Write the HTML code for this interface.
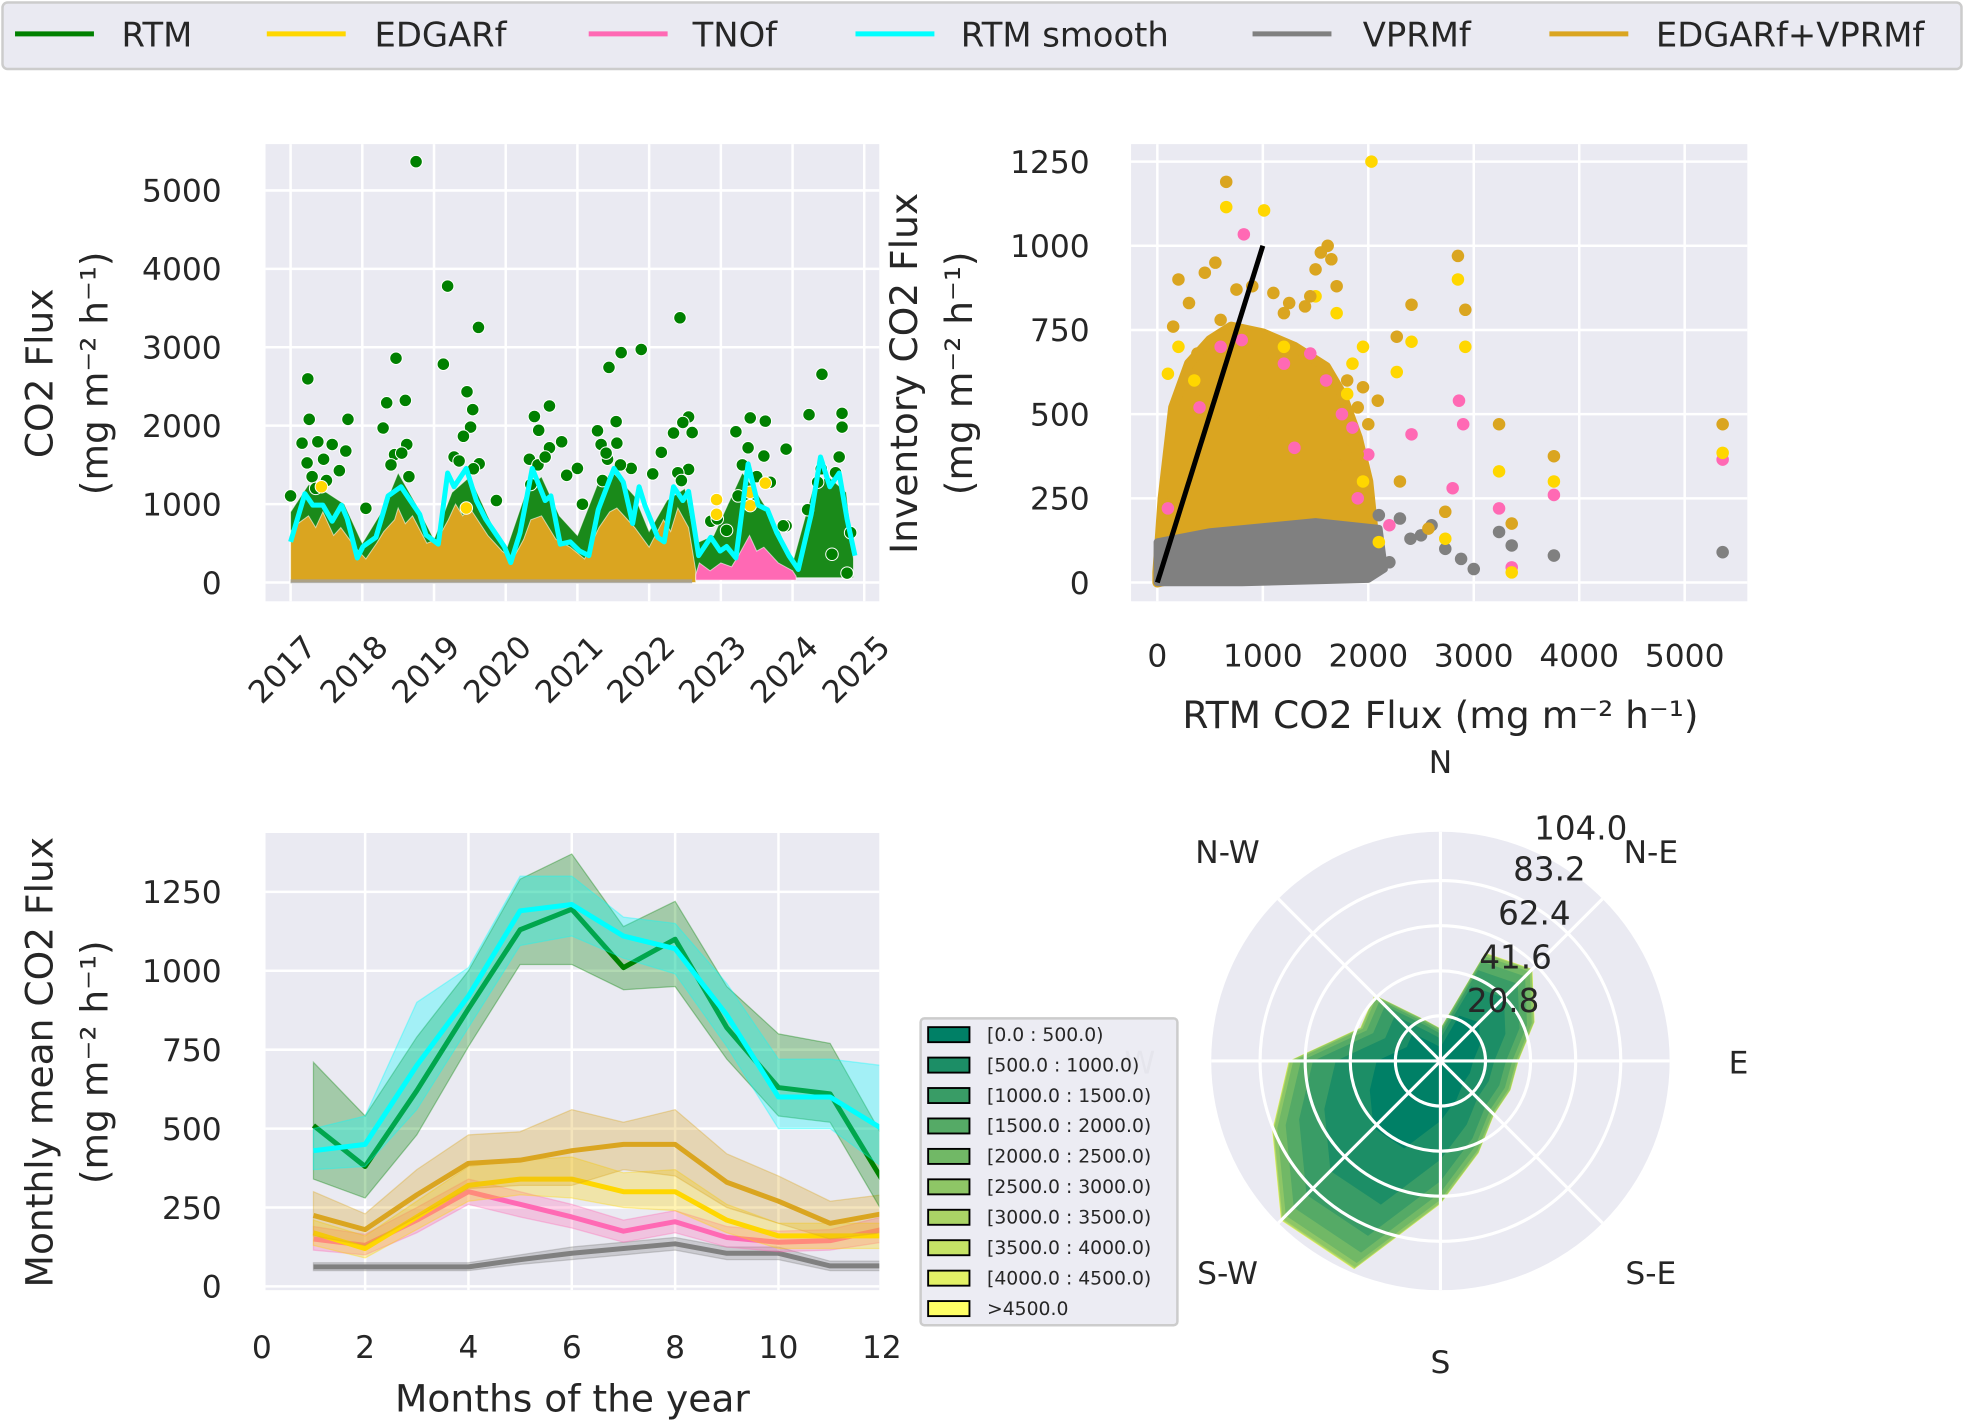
<!DOCTYPE html>
<html><head><meta charset="utf-8"><style>
html,body{margin:0;padding:0;background:#fff;}
svg{display:block;font-family:"DejaVu Sans","Liberation Sans",sans-serif;}
</style></head><body>
<svg id="fig" width="1964" height="1423" viewBox="0 0 1568 1136" xmlns="http://www.w3.org/2000/svg"></svg>
<script>
// ---------- DATA ----------
const legendLabels = ["RTM","EDGARf","TNOf","RTM smooth","VPRMf","EDGARf+VPRMf"];
const legendColors = ["#008000","#FFD700","#FF69B4","#00FFFF","#808080","#DAA520"];

// Panel 1: time series
const yearTicks = [2017,2018,2019,2020,2021,2022,2023,2024,2025];
const fluxTicks = [0,1000,2000,3000,4000,5000];
const smoothYears = [2017.0,2017.2,2017.31,2017.45,2017.58,2017.71,2017.79,2017.93,2018.01,2018.19,2018.36,2018.54,2018.67,2018.8,2018.89,2019.06,2019.19,2019.28,2019.45,2019.59,2019.72,2019.85,2019.98,2020.07,2020.2,2020.37,2020.55,2020.63,2020.76,2020.9,2021.03,2021.16,2021.29,2021.51,2021.64,2021.77,2021.86,2021.94,2022.12,2022.21,2022.34,2022.47,2022.55,2022.69,2022.86,2022.99,2023.08,2023.21,2023.38,2023.52,2023.65,2023.78,2023.95,2024.08,2024.26,2024.39,2024.52,2024.65,2024.76,2024.87];
const smoothVals = [518,1133,986,986,781,986,810,313,459,576,1104,1221,1045,870,606,489,1396,1221,1455,1045,810,635,459,254,635,1455,1045,1104,489,518,401,342,928,1455,1279,752,1221,986,576,518,1221,1045,1162,342,576,401,459,313,1513,986,928,635,342,166,870,1601,1221,1396,810,342];
const rtmMassYears = [2017.0,2017.25,2017.5,2017.75,2018.0,2018.3,2018.5,2018.75,2019.0,2019.25,2019.5,2019.75,2020.0,2020.3,2020.5,2020.75,2021.0,2021.3,2021.5,2021.8,2022.0,2022.25,2022.5,2022.65,2022.9,2023.3,2023.5,2023.8,2024.0,2024.3,2024.5,2024.75,2024.85];
const rtmMassTop = [900,1250,1150,1000,500,950,1400,1000,550,1150,1350,850,400,1200,1350,850,600,1300,1400,1100,650,1050,1200,500,600,1400,1150,700,250,1250,1350,1150,300];
const goldMassYears = [2017.0,2017.1,2017.25,2017.35,2017.45,2017.6,2017.7,2017.9,2018.05,2018.2,2018.3,2018.45,2018.5,2018.6,2018.7,2018.9,2019.05,2019.2,2019.3,2019.4,2019.5,2019.75,2019.95,2020.1,2020.25,2020.35,2020.5,2020.7,2020.9,2021.1,2021.3,2021.45,2021.55,2021.8,2022.0,2022.2,2022.3,2022.4,2022.55,2022.65];
const goldMassTop = [650,750,850,700,900,600,700,450,300,500,650,800,950,750,850,500,550,800,1000,850,950,600,400,300,550,800,850,550,450,300,700,900,950,700,450,800,650,950,700,150];
const pinkMassYears = [2022.65,2022.7,2022.85,2023.0,2023.15,2023.25,2023.4,2023.5,2023.6,2023.8,2024.0,2024.05];
const pinkMassTop = [100,250,150,250,200,350,600,400,450,250,150,80];
const rtmPtYears = [2017.24,2017.26,2017.16,2017.38,2017.58,2017.23,2017.46,2017.8,2017.77,2017.68,2017.0,2018.05,2018.29,2018.47,2018.34,2018.6,2018.45,2018.62,2018.75,2019.13,2019.19,2019.62,2019.46,2019.54,2019.51,2019.41,2019.63,2019.28,2019.87,2020.61,2020.4,2020.46,2020.78,2020.61,2020.33,2021.0,2020.85,2021.07,2021.44,2021.61,2021.89,2021.28,2021.54,2021.33,2021.55,2021.42,2021.75,2022.05,2022.17,2022.43,2022.55,2022.34,2022.47,2022.6,2022.55,2023.21,2023.41,2023.62,2023.24,2023.6,2023.38,2023.91,2023.91,2024.23,2024.41,2024.69,2024.69,2024.65,2024.55,2024.76,2024.35,2024.21,2024.81,2022.86,2023.08,2022.95,2023.87,2023.69,2017.3,2017.5,2018.4,2018.55,2019.35,2019.55,2020.45,2020.55,2021.4,2021.6,2022.4,2023.3,2023.5,2024.4,2024.6,2017.35,2018.65,2020.35,2021.35,2022.45];
const rtmPtVals = [2597,2081,1777,1795,1760,1525,1572,2081,1677,1426,1104,946,1970,2860,2292,2322,1631,1760,5367,2784,3780,3253,2433,2205,1982,1865,1514,1601,1045,2251,2117,1941,1795,1718,1572,1455,1367,998,2743,2931,2972,1935,2052,1760,1777,1572,1455,1385,1660,3376,2111,1906,2041,1912,1443,1923,2099,2058,1104,1613,1718,1701,723,2140,2655,2157,1982,1601,360,120,1279,928,635,781,665,811,723,1279,1350,1300,1500,1650,1550,1450,1500,1600,1650,1500,1400,1500,1350,1450,1400,1200,1350,1250,1300,1300];
const edgarPtYears = [2023.62,2022.94,2022.94,2023.41,2023.41,2017.43,2019.45];
const edgarPtVals = [1267,1057,870,1150,980,1221,950];

// Panel 2: scatter RTM vs inventory
const rtmXTicks = [0,1000,2000,3000,4000,5000];
const invYTicks = [0,250,500,750,1000,1250];
const goldHullX = [0,50,150,300,500,700,1000,1300,1600,1750,1900,2000,2050,1800,800,0];
const goldHullY = [30,250,520,650,720,760,740,700,640,560,430,300,150,100,60,0];
const grayHullX = [0,0,500,1500,2100,2150,2000,800];
const grayHullY = [0,120,150,180,160,40,10,0];
const goldPtX = [653,1615,2850,2920,3240,3360,3760,5360,2410,2270,2090,2730,2570,380,150,1200,1800,1900,1500,1400,900,300,1000,1700,1850,2300,200,550,750,1100,1250,1650,1700,600,450,1900,2000,1550,1950,1450];
const goldPtY = [1190,1000,970,810,470,175,375,470,825,730,540,210,160,680,760,800,600,380,930,820,880,830,480,350,420,300,900,950,870,860,830,960,880,780,920,520,470,980,580,850];
const yellowPtX = [653,1012,2030,2850,2920,3240,2410,2270,2730,100,200,1800,1950,2100,3760,5360,3360,1500,1700,1200,350,1850,1950];
const yellowPtY = [1115,1105,1250,900,700,330,715,625,130,620,700,560,300,120,300,385,30,850,800,700,600,650,700];
const pinkPtX = [820,2860,3240,3360,3760,5360,2410,2900,1600,1300,600,2200,2800,1900,100,1200,1450,1750,1850,400,800,2000];
const pinkPtY = [1034,540,220,45,260,365,440,470,600,400,700,170,280,250,220,650,680,500,460,520,720,380];
const grayPtX = [3240,3360,3760,5360,2730,2880,2500,2600,2200,2300,3000,1900,2400,2100];
const grayPtY = [150,110,80,90,100,70,140,170,60,190,40,30,130,200];

// Panel 3: monthly means
const months = [1,2,3,4,5,6,7,8,9,10,11,12];
const monthTicks = [0,2,4,6,8,10,12];
const monthlyYTicks = [0,250,500,750,1000,1250];
const rtmMean = [510,380,620,880,1130,1195,1010,1100,820,630,610,340];
const rtmHi = [710,540,790,1000,1290,1370,1140,1220,950,800,770,480];
const rtmLo = [340,280,480,760,1020,1020,940,950,720,540,520,240];
const smoothMean = [430,450,700,920,1190,1210,1110,1070,860,600,600,500];
const smoothHi = [500,540,900,1010,1300,1300,1170,1150,960,720,720,700];
const smoothLo = [370,380,560,820,1080,1110,1040,990,760,500,500,380];
const goldMean = [225,180,290,390,400,430,450,450,330,270,200,230];
const goldHi = [300,230,370,480,490,560,520,560,420,350,270,290];
const goldLo = [160,130,220,310,320,320,370,350,250,200,150,170];
const edgarMean = [170,120,220,320,340,340,300,300,210,160,160,160];
const edgarHi = [210,160,270,380,400,410,360,370,260,200,200,200];
const edgarLo = [130,90,180,270,290,280,250,240,170,120,120,120];
const tnoMean = [150,130,210,300,260,220,175,205,155,140,145,180];
const tnoHi = [190,165,250,340,300,260,210,240,190,175,180,220];
const tnoLo = [115,100,170,260,220,185,140,170,125,110,115,140];
const vprmMean = [62,62,62,62,85,105,120,135,105,105,65,65];
const vprmHi = [75,75,75,75,100,125,140,155,125,125,80,80];
const vprmLo = [50,50,50,50,70,85,100,115,85,85,50,50];

// Panel 4: wind rose
const dirLabels = ["N","N-E","E","S-E","S","S-W","W","N-W"];
const ringLabels = ["20.8","41.6","62.4","83.2","104.0"];
const ringVals = [20.8,41.6,62.4,83.2,104.0];
const dirTotals = [15,54,60,47,36,35,35,46,66,104,104,84,70,40,43,21];
const binShares = [0.42,0.27,0.15,0.08,0.05,0.02,0.005,0.003,0.001,0.001];
const binLabels = ["[0.0 : 500.0)","[500.0 : 1000.0)","[1000.0 : 1500.0)","[1500.0 : 2000.0)","[2000.0 : 2500.0)","[2500.0 : 3000.0)","[3000.0 : 3500.0)","[3500.0 : 4000.0)","[4000.0 : 4500.0)",">4500.0"];

// ---------- DRAW ----------
const NS="http://www.w3.org/2000/svg";
const svg=document.getElementById('fig');
function mk(tag,attrs,parent){const e=document.createElementNS(NS,tag);for(const k in attrs)e.setAttribute(k,attrs[k]);(parent||svg).appendChild(e);return e;}
function txt(s,x,y,size,anchor,parent,extra){const e=mk('text',Object.assign({x:x,y:y,'font-size':size,'text-anchor':anchor||'middle',fill:'#262626'},extra||{}),parent);e.textContent=s;return e;}
const BG="#eaeaf2";
const TICK=25, LAB=30;

// Top legend
const lg=mk('g',{});


const lgb=mk('rect',{x:2,y:2,width:1564,height:53,rx:4,fill:'#eaeaf2',stroke:'#cccccc','stroke-width':2},lg);


const lgX=[12,213,470,683,1000,1237];
const lgT=[97,299,553,767,1088,1322];
legendLabels.forEach((l,i)=>{
  const g=mk('g',{},lg);
  
  
  mk('line',{x1:lgX[i],x2:lgX[i]+63,y1:27,y2:27,stroke:legendColors[i],'stroke-width':4},g);
  txt(l,lgT[i],37,27,'start',g);
});

// ----- Panel 1 -----
const p1={x0:212,x1:702,y0:115,y1:480};
const X1=y=>232+(y-2017)*57.25, Y1=v=>465-v*0.0626;
const g1=mk('g',{});


mk('rect',{x:p1.x0,y:p1.y0,width:p1.x1-p1.x0,height:p1.y1-p1.y0,fill:BG},g1);
yearTicks.forEach(t=>{mk('line',{x1:X1(t),x2:X1(t),y1:p1.y0,y2:p1.y1,stroke:'#fff','stroke-width':2},g1);
  const tl=txt(String(t),X1(t)+22,518,TICK,'end',g1,{transform:`rotate(-45 ${X1(t)+22} 518)`});
  
  });
fluxTicks.forEach(t=>{mk('line',{x1:p1.x0,x2:p1.x1,y1:Y1(t),y2:Y1(t),stroke:'#fff','stroke-width':2},g1);
  const tl=txt(String(t),177,Y1(t)+9,TICK,'end',g1);
  
  });
function massPoly(xs,tops,bot,color,g,name){
  let pts=xs.map((x,i)=>X1(x)+','+Y1(tops[i]));
  for(let i=xs.length-1;i>=0;i--)pts.push(X1(xs[i])+','+Y1(bot));
  const p=mk('polygon',{points:pts.join(' '),fill:color,stroke:'#fff','stroke-width':0.8,'stroke-opacity':0.6},g);
  
  
}
massPoly(rtmMassYears,rtmMassTop,60,'#1a8a1a',g1,'rtm-points-mass');
massPoly(goldMassYears,goldMassTop,0,'#DAA520',g1,'edgar-vprm-points-mass');
massPoly(pinkMassYears,pinkMassTop,30,'#FF69B4',g1,'tno-points-mass');
const grayBand=mk('rect',{x:X1(2017),y:Y1(40),width:X1(2022.6)-X1(2017),height:Y1(-10)-Y1(40),fill:'#a0a0a0',opacity:0.8},g1);


rtmPtYears.forEach((y,i)=>{const c=mk('circle',{cx:X1(y),cy:Y1(rtmPtVals[i]),r:5,fill:'#008000',stroke:'#fff','stroke-width':0.8},g1);
  
  });
edgarPtYears.forEach((y,i)=>{const c=mk('circle',{cx:X1(y),cy:Y1(edgarPtVals[i]),r:5,fill:'#FFD700',stroke:'#fff','stroke-width':0.8},g1);
  
  });
const sl=mk('polyline',{points:smoothYears.map((y,i)=>X1(y)+','+Y1(smoothVals[i])).join(' '),fill:'none',stroke:'#00FFFF','stroke-width':4,'stroke-linejoin':'round'},g1);


const yl1=mk('g',{transform:'translate(52,298) rotate(-90)'},g1);


txt('CO2 Flux',0,-10,LAB,'middle',yl1);
txt('(mg m\u207B\u00B2 h\u207B\u00B9)',0,34,LAB,'middle',yl1);

// ----- Panel 2 -----
const p2={x0:903,x1:1395,y0:115,y1:480};
const X2=v=>924+v*0.0842, Y2=v=>465-v*0.2688;
const g2=mk('g',{});


mk('rect',{x:p2.x0,y:p2.y0,width:p2.x1-p2.x0,height:p2.y1-p2.y0,fill:BG},g2);
rtmXTicks.forEach(t=>{mk('line',{x1:X2(t),x2:X2(t),y1:p2.y0,y2:p2.y1,stroke:'#fff','stroke-width':2},g2);
  const tl=txt(String(t),X2(t),532,TICK,'middle',g2);
  
  });
invYTicks.forEach(t=>{mk('line',{x1:p2.x0,x2:p2.x1,y1:Y2(t),y2:Y2(t),stroke:'#fff','stroke-width':2},g2);
  const tl=txt(String(t),870,Y2(t)+9,TICK,'end',g2);
  
  });
const gh=mk('polygon',{points:goldHullX.map((x,i)=>X2(x)+','+Y2(goldHullY[i])).join(' '),fill:'#DAA520','stroke':'#DAA520','stroke-width':8,'stroke-linejoin':'round'},g2);


const grh=mk('polygon',{points:grayHullX.map((x,i)=>X2(x)+','+Y2(grayHullY[i])).join(' '),fill:'#808080',stroke:'#808080','stroke-width':6,'stroke-linejoin':'round'},g2);


function pts2(xs,ys,color,name){xs.forEach((x,i)=>{const c=mk('circle',{cx:X2(x),cy:Y2(ys[i]),r:5,fill:color},g2);
  
  });}
pts2(grayPtX,grayPtY,'#808080','vprm-point');
pts2(pinkPtX,pinkPtY,'#FF69B4','tno-point');
pts2(yellowPtX,yellowPtY,'#FFD700','edgar-point');
pts2(goldPtX,goldPtY,'#DAA520','edgar-vprm-point');
const one=mk('line',{x1:X2(0),y1:Y2(0),x2:X2(1000),y2:Y2(1000),stroke:'#000','stroke-width':4},g2);


const xl2=txt('RTM CO2 Flux (mg m\u207B\u00B2 h\u207B\u00B9)',1150,581,LAB,'middle',g2);


const yl2=mk('g',{transform:'translate(742,298) rotate(-90)'},g2);


txt('Inventory CO2 Flux',0,-10,LAB,'middle',yl2);
txt('(mg m\u207B\u00B2 h\u207B\u00B9)',0,34,LAB,'middle',yl2);

// ----- Panel 3 -----
const p3={x0:212,x1:702,y0:665,y1:1030};
const X3=m=>209+m*41.25, Y3=v=>1027-v*0.252;
const g3=mk('g',{});


mk('rect',{x:p3.x0,y:p3.y0,width:p3.x1-p3.x0,height:p3.y1-p3.y0,fill:BG},g3);
const clip=mk('clipPath',{id:'c3'},g3);mk('rect',{x:p3.x0,y:p3.y0,width:p3.x1-p3.x0,height:p3.y1-p3.y0},clip);
monthTicks.forEach(t=>{if(X3(t)>p3.x0&&X3(t)<p3.x1)mk('line',{x1:X3(t),x2:X3(t),y1:p3.y0,y2:p3.y1,stroke:'#fff','stroke-width':2},g3);
  const tl=txt(String(t),X3(t),1084,TICK,'middle',g3);
  
  });
monthlyYTicks.forEach(t=>{mk('line',{x1:p3.x0,x2:p3.x1,y1:Y3(t),y2:Y3(t),stroke:'#fff','stroke-width':2},g3);
  const tl=txt(String(t),177,Y3(t)+9,TICK,'end',g3);
  
  });
const cg=mk('g',{'clip-path':'url(#c3)'},g3);
function series3(mean,hi,lo,color,name){
  const band=mk('polygon',{points:months.map((m,i)=>X3(m)+','+Y3(hi[i])).concat(months.slice().reverse().map((m,j)=>X3(m)+','+Y3(lo[months.length-1-j]))).join(' '),fill:color,'fill-opacity':0.3,stroke:color,'stroke-opacity':0.35},cg);
  
  
  const ln=mk('polyline',{points:months.map((m,i)=>X3(m)+','+Y3(mean[i])).join(' '),fill:'none',stroke:color,'stroke-width':4,'stroke-linejoin':'round'},cg);
  
  
}
series3(vprmMean,vprmHi,vprmLo,'#808080','vprm');
series3(tnoMean,tnoHi,tnoLo,'#FF69B4','tno');
series3(edgarMean,edgarHi,edgarLo,'#FFD700','edgar');
series3(goldMean,goldHi,goldLo,'#DAA520','edgar-vprm');
series3(rtmMean,rtmHi,rtmLo,'#008000','rtm');
series3(smoothMean,smoothHi,smoothLo,'#00FFFF','rtm-smooth');
const xl3=txt('Months of the year',457,1127,LAB,'middle',g3);


const yl3=mk('g',{transform:'translate(52,848) rotate(-90)'},g3);


txt('Monthly mean CO2 Flux',0,-10,LAB,'middle',yl3);
txt('(mg m\u207B\u00B2 h\u207B\u00B9)',0,34,LAB,'middle',yl3);

// ----- Panel 4: wind rose -----
const cx=1150, cy=847, R=180, maxV=104.0;
const rr=v=>v/maxV*R;
const g4=mk('g',{});


mk('circle',{cx:cx,cy:cy,r:R+3,fill:BG},g4);
function summer(i){const t=i/9;return `rgb(${Math.round(255*t)},${Math.round(255*(0.5+0.5*t))},102)`;}
for(let b=binShares.length-1;b>=0;b--){
  let cum=0;for(let k=0;k<=b;k++)cum+=binShares[k];
  const pts=dirTotals.map((v,i)=>{const a=i*22.5*Math.PI/180;const r=rr(v*cum);return (cx+r*Math.sin(a))+','+(cy-r*Math.cos(a));});
  const p=mk('polygon',{points:pts.join(' '),fill:summer(b)},g4);
  
  
}
ringVals.forEach((v,i)=>{if(i<ringVals.length-1)mk('circle',{cx:cx,cy:cy,r:rr(v),fill:'none',stroke:'#fff','stroke-width':2.5},g4);});
for(let k=0;k<8;k++){const a=k*45*Math.PI/180;mk('line',{x1:cx,y1:cy,x2:cx+(R+3)*Math.sin(a),y2:cy-(R+3)*Math.cos(a),stroke:'#fff','stroke-width':2.5},g4);}
const ringPos=[[1200,808],[1210,773],[1225,738],[1237,703],[1262,670]];
ringLabels.forEach((l,i)=>{const t=txt(l,ringPos[i][0],ringPos[i][1],26,'middle',g4);
  
  });
const dirPos=[[1150,617],[1318,689],[1388,857],[1318,1025],[1150,1096],[980,1025],[910,857],[980,689]];
dirLabels.forEach((l,i)=>{const t=txt(l,dirPos[i][0],dirPos[i][1],25,'middle',g4,i===6?{fill:'#bbbbbb'}:{});
  
  });
// wind rose legend
const wl=mk('g',{});


mk('rect',{x:735,y:813,width:205,height:245,rx:3,fill:'#eaeaf2','fill-opacity':0.9,stroke:'#cccccc','stroke-width':2},wl);
binLabels.forEach((l,i)=>{const y=826+i*24.3;
  const g=mk('g',{},wl);
  
  
  mk('rect',{x:741,y:y-6,width:33,height:12,fill:summer(i),stroke:'#000','stroke-width':1.5},g);
  txt(l,788,y+5,15,'start',g);
});
</script>
</body></html>
